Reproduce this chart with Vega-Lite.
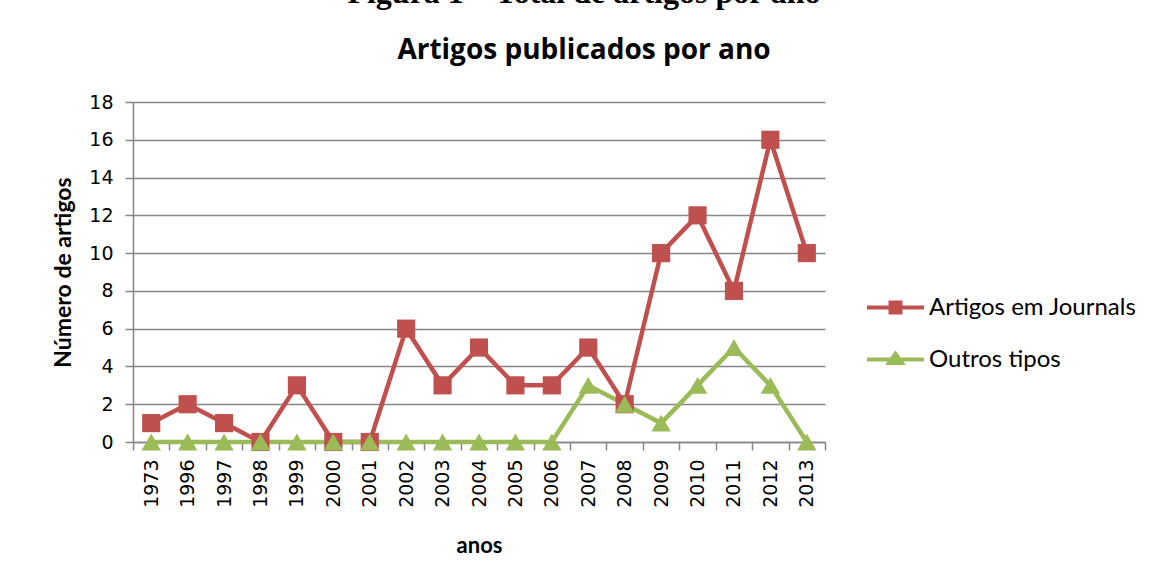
{
  "$schema": "https://vega.github.io/schema/vega-lite/v6.json",
  "autosize": {"type": "none"},
  "width": 692,
  "height": 340,
  "padding": {"left": 133, "top": 102, "right": 327, "bottom": 138},
  "background": "white",
  "title": {
    "text": "Figura 1 – Total de artigos por ano",
    "subtitle": "Artigos publicados por ano",
    "anchor": "middle",
    "frame": "group",
    "dx": 105,
    "offset": 27,
    "font": "Liberation Serif",
    "fontSize": 32,
    "fontWeight": "bold",
    "color": "black",
    "subtitleFont": "Open Sans",
    "subtitleFontSize": 28,
    "subtitleFontWeight": "bold",
    "subtitleColor": "black",
    "subtitlePadding": 27
  },
  "data": {
    "values": [
      {"ano": "1973", "serie": "Artigos em Journals", "n": 1},
      {"ano": "1996", "serie": "Artigos em Journals", "n": 2},
      {"ano": "1997", "serie": "Artigos em Journals", "n": 1},
      {"ano": "1998", "serie": "Artigos em Journals", "n": 0},
      {"ano": "1999", "serie": "Artigos em Journals", "n": 3},
      {"ano": "2000", "serie": "Artigos em Journals", "n": 0},
      {"ano": "2001", "serie": "Artigos em Journals", "n": 0},
      {"ano": "2002", "serie": "Artigos em Journals", "n": 6},
      {"ano": "2003", "serie": "Artigos em Journals", "n": 3},
      {"ano": "2004", "serie": "Artigos em Journals", "n": 5},
      {"ano": "2005", "serie": "Artigos em Journals", "n": 3},
      {"ano": "2006", "serie": "Artigos em Journals", "n": 3},
      {"ano": "2007", "serie": "Artigos em Journals", "n": 5},
      {"ano": "2008", "serie": "Artigos em Journals", "n": 2},
      {"ano": "2009", "serie": "Artigos em Journals", "n": 10},
      {"ano": "2010", "serie": "Artigos em Journals", "n": 12},
      {"ano": "2011", "serie": "Artigos em Journals", "n": 8},
      {"ano": "2012", "serie": "Artigos em Journals", "n": 16},
      {"ano": "2013", "serie": "Artigos em Journals", "n": 10},
      {"ano": "1973", "serie": "Outros tipos", "n": 0},
      {"ano": "1996", "serie": "Outros tipos", "n": 0},
      {"ano": "1997", "serie": "Outros tipos", "n": 0},
      {"ano": "1998", "serie": "Outros tipos", "n": 0},
      {"ano": "1999", "serie": "Outros tipos", "n": 0},
      {"ano": "2000", "serie": "Outros tipos", "n": 0},
      {"ano": "2001", "serie": "Outros tipos", "n": 0},
      {"ano": "2002", "serie": "Outros tipos", "n": 0},
      {"ano": "2003", "serie": "Outros tipos", "n": 0},
      {"ano": "2004", "serie": "Outros tipos", "n": 0},
      {"ano": "2005", "serie": "Outros tipos", "n": 0},
      {"ano": "2006", "serie": "Outros tipos", "n": 0},
      {"ano": "2007", "serie": "Outros tipos", "n": 3},
      {"ano": "2008", "serie": "Outros tipos", "n": 2},
      {"ano": "2009", "serie": "Outros tipos", "n": 1},
      {"ano": "2010", "serie": "Outros tipos", "n": 3},
      {"ano": "2011", "serie": "Outros tipos", "n": 5},
      {"ano": "2012", "serie": "Outros tipos", "n": 3},
      {"ano": "2013", "serie": "Outros tipos", "n": 0}
    ]
  },
  "encoding": {
    "x": {
      "field": "ano",
      "type": "ordinal",
      "scale": {"type": "band", "paddingInner": 0, "paddingOuter": 0},
      "axis": {
        "title": "anos",
        "titleFont": "Lato",
        "titleFontSize": 22,
        "titleFontWeight": "bold",
        "titleColor": "black",
        "titlePadding": 28,
        "labelAngle": -90,
        "labelFont": "DejaVu Sans",
        "labelFontSize": 19,
        "labelColor": "black",
        "labelPadding": 9,
        "tickBand": "extent",
        "tickSize": 8,
        "tickColor": "#868686",
        "tickWidth": 1.5,
        "domainColor": "#868686",
        "domainWidth": 1.5,
        "grid": false
      }
    },
    "y": {
      "field": "n",
      "type": "quantitative",
      "scale": {"domain": [0, 18], "nice": false},
      "axis": {
        "title": "Número de artigos",
        "titleFont": "Lato",
        "titleFontSize": 23,
        "titleFontWeight": "bold",
        "titleColor": "black",
        "titlePadding": 13,
        "values": [0, 2, 4, 6, 8, 10, 12, 14, 16, 18],
        "labelFont": "DejaVu Sans",
        "labelFontSize": 19,
        "labelColor": "black",
        "labelPadding": 12,
        "tickSize": 8,
        "tickColor": "#868686",
        "tickWidth": 1.5,
        "domainColor": "#868686",
        "domainWidth": 1.5,
        "grid": true,
        "gridColor": "#868686",
        "gridWidth": 1.5
      }
    },
    "color": {
      "field": "serie",
      "type": "nominal",
      "scale": {"domain": ["Artigos em Journals", "Outros tipos"], "range": ["#C0504D", "#9BBB59"]},
      "legend": {
        "title": null,
        "orient": "none",
        "legendX": 732,
        "legendY": 175,
        "padding": 0,
        "symbolSize": 3249,
        "symbolStrokeWidth": 4,
        "rowPadding": 8,
        "labelFont": "Lato",
        "labelFontSize": 24,
        "labelColor": "black",
        "labelOffset": 3,
        "labelLimit": 300,
        "encode": {
          "symbols": {
            "update": {
              "shape": {"signal": "datum.value === 'Artigos em Journals' ? 'M-1,0H1M-0.175,-0.175H0.175V0.175H-0.175Z' : 'M-1,0H1M0,-0.2L0.23,0.12H-0.23Z'"},
              "fill": {"signal": "datum.value === 'Artigos em Journals' ? '#C0504D' : '#9BBB59'"},
              "stroke": {"signal": "datum.value === 'Artigos em Journals' ? '#C0504D' : '#9BBB59'"},
              "strokeWidth": {"value": 4},
              "size": {"value": 3249},
              "opacity": {"value": 1},
              "fillOpacity": {"value": 1},
              "strokeOpacity": {"value": 1}
            }
          }
        }
      }
    }
  },
  "layer": [
    {
      "mark": {"type": "line", "strokeWidth": 4.5}
    },
    {
      "transform": [{"filter": "datum.serie === 'Artigos em Journals'"}],
      "mark": {"type": "point", "filled": true, "opacity": 1, "shape": "square", "size": 330}
    },
    {
      "transform": [{"filter": "datum.serie === 'Outros tipos'"}],
      "mark": {"type": "point", "filled": true, "opacity": 1, "shape": "triangle-up", "size": 380}
    }
  ],
  "config": {"view": {"stroke": null}}
}
